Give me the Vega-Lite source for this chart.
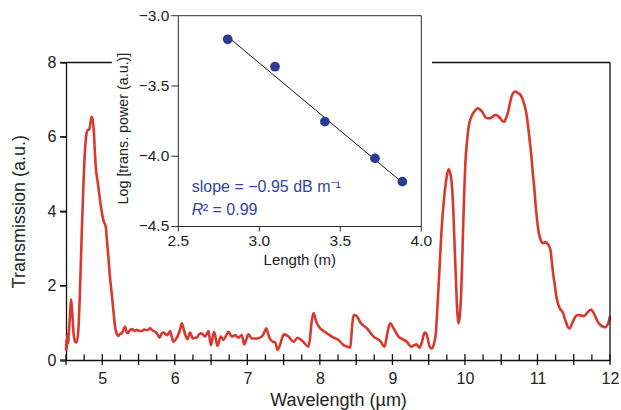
{
  "$schema": "https://vega.github.io/schema/vega-lite/v6.json",
  "autosize": {"type": "none"},
  "width": 544,
  "height": 297.5,
  "padding": {"left": 66, "top": 62.5, "right": 11, "bottom": 50},
  "background": "white",
  "config": {
    "font": "Liberation Sans",
    "view": {"stroke": null},
    "axis": {
      "domainColor": "#111111",
      "domainWidth": 1.3,
      "tickColor": "#111111",
      "tickWidth": 1.3,
      "tickOpacity": 1,
      "labelColor": "#222222",
      "labelFontSize": 16,
      "titleFontSize": 18,
      "titleFontWeight": "normal",
      "titleColor": "#222222",
      "grid": false
    }
  },
  "datasets": {
    "one": [{}],
    "spectrum": [
      {"w": 4.5, "t": 0.25}, {"w": 4.505, "t": 0.55}, {"w": 4.512, "t": 0.3}, {"w": 4.52, "t": 0.7}, {"w": 4.53, "t": 0.45},
      {"w": 4.54, "t": 0.75}, {"w": 4.555, "t": 1.2}, {"w": 4.569, "t": 1.63}, {"w": 4.585, "t": 1.3}, {"w": 4.605, "t": 0.7},
      {"w": 4.625, "t": 0.5}, {"w": 4.648, "t": 0.47}, {"w": 4.67, "t": 0.8}, {"w": 4.69, "t": 1.7}, {"w": 4.717, "t": 3.41},
      {"w": 4.74, "t": 4.7}, {"w": 4.762, "t": 5.65}, {"w": 4.78, "t": 6.05}, {"w": 4.794, "t": 6.17}, {"w": 4.822, "t": 6.2},
      {"w": 4.835, "t": 6.35}, {"w": 4.854, "t": 6.54}, {"w": 4.868, "t": 6.45}, {"w": 4.882, "t": 6.2}, {"w": 4.895, "t": 5.7},
      {"w": 4.91, "t": 5.2}, {"w": 4.94, "t": 4.75}, {"w": 4.969, "t": 4.3}, {"w": 4.995, "t": 3.95}, {"w": 5.015, "t": 3.76},
      {"w": 5.048, "t": 3.58}, {"w": 5.065, "t": 3.2}, {"w": 5.084, "t": 2.78}, {"w": 5.105, "t": 2.25}, {"w": 5.13, "t": 1.79},
      {"w": 5.155, "t": 1.3}, {"w": 5.176, "t": 0.9}, {"w": 5.2, "t": 0.7}, {"w": 5.222, "t": 0.65}, {"w": 5.245, "t": 0.7},
      {"w": 5.268, "t": 0.72}, {"w": 5.29, "t": 0.8}, {"w": 5.314, "t": 0.9}, {"w": 5.335, "t": 0.75}, {"w": 5.351, "t": 0.72},
      {"w": 5.38, "t": 0.8}, {"w": 5.415, "t": 0.83}, {"w": 5.445, "t": 0.78}, {"w": 5.475, "t": 0.81}, {"w": 5.51, "t": 0.78},
      {"w": 5.545, "t": 0.78}, {"w": 5.58, "t": 0.82}, {"w": 5.62, "t": 0.8}, {"w": 5.659, "t": 0.85}, {"w": 5.69, "t": 0.8},
      {"w": 5.728, "t": 0.76}, {"w": 5.76, "t": 0.7}, {"w": 5.788, "t": 0.6}, {"w": 5.815, "t": 0.7}, {"w": 5.843, "t": 0.74},
      {"w": 5.87, "t": 0.7}, {"w": 5.898, "t": 0.67}, {"w": 5.935, "t": 0.78}, {"w": 5.955, "t": 0.65}, {"w": 5.981, "t": 0.49},
      {"w": 6.01, "t": 0.55}, {"w": 6.036, "t": 0.63}, {"w": 6.07, "t": 0.8}, {"w": 6.096, "t": 0.99}, {"w": 6.12, "t": 0.85},
      {"w": 6.142, "t": 0.69}, {"w": 6.174, "t": 0.56}, {"w": 6.211, "t": 0.74}, {"w": 6.248, "t": 0.58}, {"w": 6.275, "t": 0.6},
      {"w": 6.303, "t": 0.6}, {"w": 6.33, "t": 0.68}, {"w": 6.359, "t": 0.72}, {"w": 6.39, "t": 0.68}, {"w": 6.418, "t": 0.63},
      {"w": 6.44, "t": 0.7}, {"w": 6.464, "t": 0.78}, {"w": 6.497, "t": 0.4}, {"w": 6.542, "t": 0.76}, {"w": 6.588, "t": 0.38},
      {"w": 6.635, "t": 0.63}, {"w": 6.671, "t": 0.54}, {"w": 6.705, "t": 0.65}, {"w": 6.74, "t": 0.76}, {"w": 6.786, "t": 0.63},
      {"w": 6.832, "t": 0.67}, {"w": 6.878, "t": 0.6}, {"w": 6.924, "t": 0.67}, {"w": 6.956, "t": 0.42}, {"w": 6.985, "t": 0.55},
      {"w": 7.015, "t": 0.69}, {"w": 7.062, "t": 0.58}, {"w": 7.131, "t": 0.58}, {"w": 7.2, "t": 0.63}, {"w": 7.235, "t": 0.75},
      {"w": 7.26, "t": 0.85}, {"w": 7.285, "t": 0.72}, {"w": 7.305, "t": 0.6}, {"w": 7.352, "t": 0.49}, {"w": 7.384, "t": 0.48},
      {"w": 7.416, "t": 0.27}, {"w": 7.453, "t": 0.42}, {"w": 7.48, "t": 0.6}, {"w": 7.508, "t": 0.69}, {"w": 7.568, "t": 0.63},
      {"w": 7.637, "t": 0.49}, {"w": 7.692, "t": 0.6}, {"w": 7.735, "t": 0.55}, {"w": 7.775, "t": 0.48}, {"w": 7.843, "t": 0.36},
      {"w": 7.865, "t": 0.6}, {"w": 7.881, "t": 0.94}, {"w": 7.913, "t": 1.26}, {"w": 7.95, "t": 1.03}, {"w": 8.005, "t": 0.85},
      {"w": 8.05, "t": 0.78}, {"w": 8.097, "t": 0.72}, {"w": 8.188, "t": 0.6}, {"w": 8.257, "t": 0.54}, {"w": 8.326, "t": 0.4},
      {"w": 8.38, "t": 0.36}, {"w": 8.419, "t": 0.33}, {"w": 8.44, "t": 0.8}, {"w": 8.464, "t": 1.21}, {"w": 8.502, "t": 1.19},
      {"w": 8.566, "t": 0.99}, {"w": 8.649, "t": 0.85}, {"w": 8.74, "t": 0.63}, {"w": 8.833, "t": 0.51}, {"w": 8.892, "t": 0.36},
      {"w": 8.925, "t": 0.67}, {"w": 8.95, "t": 0.9}, {"w": 8.971, "t": 0.99}, {"w": 9.016, "t": 0.85}, {"w": 9.085, "t": 0.63},
      {"w": 9.15, "t": 0.55}, {"w": 9.201, "t": 0.49}, {"w": 9.256, "t": 0.36}, {"w": 9.3, "t": 0.4}, {"w": 9.33, "t": 0.42},
      {"w": 9.375, "t": 0.33}, {"w": 9.41, "t": 0.5}, {"w": 9.44, "t": 0.72}, {"w": 9.458, "t": 0.74}, {"w": 9.485, "t": 0.6},
      {"w": 9.5, "t": 0.45}, {"w": 9.523, "t": 0.33}, {"w": 9.546, "t": 0.31}, {"w": 9.575, "t": 0.45}, {"w": 9.6, "t": 0.75},
      {"w": 9.62, "t": 1.4}, {"w": 9.645, "t": 2.3}, {"w": 9.684, "t": 3.68}, {"w": 9.71, "t": 4.3}, {"w": 9.73, "t": 4.66},
      {"w": 9.755, "t": 5.0}, {"w": 9.775, "t": 5.13}, {"w": 9.8, "t": 5.0}, {"w": 9.822, "t": 4.66}, {"w": 9.84, "t": 4.0},
      {"w": 9.858, "t": 3.05}, {"w": 9.875, "t": 2.2}, {"w": 9.891, "t": 1.43}, {"w": 9.903, "t": 1.1}, {"w": 9.913, "t": 0.99},
      {"w": 9.93, "t": 1.2}, {"w": 9.946, "t": 1.7}, {"w": 9.96, "t": 2.5}, {"w": 9.974, "t": 3.5}, {"w": 9.99, "t": 4.5},
      {"w": 10.006, "t": 5.29}, {"w": 10.03, "t": 5.9}, {"w": 10.051, "t": 6.27}, {"w": 10.08, "t": 6.5}, {"w": 10.112, "t": 6.63},
      {"w": 10.145, "t": 6.72}, {"w": 10.175, "t": 6.77}, {"w": 10.205, "t": 6.74}, {"w": 10.236, "t": 6.68}, {"w": 10.27, "t": 6.56},
      {"w": 10.305, "t": 6.5}, {"w": 10.34, "t": 6.5}, {"w": 10.374, "t": 6.53}, {"w": 10.405, "t": 6.58}, {"w": 10.433, "t": 6.59},
      {"w": 10.46, "t": 6.55}, {"w": 10.489, "t": 6.5}, {"w": 10.515, "t": 6.42}, {"w": 10.544, "t": 6.41}, {"w": 10.565, "t": 6.5},
      {"w": 10.59, "t": 6.63}, {"w": 10.615, "t": 6.85}, {"w": 10.636, "t": 7.04}, {"w": 10.665, "t": 7.18}, {"w": 10.696, "t": 7.22},
      {"w": 10.73, "t": 7.18}, {"w": 10.765, "t": 7.13}, {"w": 10.795, "t": 7.02}, {"w": 10.82, "t": 6.86}, {"w": 10.845, "t": 6.65},
      {"w": 10.866, "t": 6.36}, {"w": 10.89, "t": 5.95}, {"w": 10.912, "t": 5.56}, {"w": 10.935, "t": 5.05}, {"w": 10.958, "t": 4.57},
      {"w": 10.975, "t": 4.15}, {"w": 10.995, "t": 3.76}, {"w": 11.015, "t": 3.45}, {"w": 11.031, "t": 3.32}, {"w": 11.055, "t": 3.18},
      {"w": 11.078, "t": 3.14}, {"w": 11.105, "t": 3.17}, {"w": 11.133, "t": 3.14}, {"w": 11.155, "t": 3.08}, {"w": 11.179, "t": 2.96},
      {"w": 11.2, "t": 2.6}, {"w": 11.216, "t": 2.33}, {"w": 11.24, "t": 2.0}, {"w": 11.261, "t": 1.7}, {"w": 11.285, "t": 1.5},
      {"w": 11.307, "t": 1.39}, {"w": 11.33, "t": 1.33}, {"w": 11.354, "t": 1.26}, {"w": 11.375, "t": 1.12}, {"w": 11.399, "t": 0.99},
      {"w": 11.42, "t": 0.88}, {"w": 11.445, "t": 0.85}, {"w": 11.47, "t": 0.95}, {"w": 11.5, "t": 1.08}, {"w": 11.53, "t": 1.18},
      {"w": 11.556, "t": 1.21}, {"w": 11.6, "t": 1.2}, {"w": 11.638, "t": 1.18}, {"w": 11.69, "t": 1.28}, {"w": 11.74, "t": 1.36},
      {"w": 11.77, "t": 1.28}, {"w": 11.8, "t": 1.16}, {"w": 11.835, "t": 1.02}, {"w": 11.869, "t": 0.94}, {"w": 11.9, "t": 0.9},
      {"w": 11.938, "t": 0.88}, {"w": 11.965, "t": 0.95}, {"w": 11.983, "t": 1.03}, {"w": 12.0, "t": 1.18}
    ],
    "majorTicks": [
      {"tk": 4.5}, {"tk": 5}, {"tk": 5.5}, {"tk": 6}, {"tk": 6.5}, {"tk": 7}, {"tk": 7.5}, {"tk": 8},
      {"tk": 8.5}, {"tk": 9}, {"tk": 9.5}, {"tk": 10}, {"tk": 10.5}, {"tk": 11}, {"tk": 11.5}, {"tk": 12}
    ],
    "minorTicks": [
      {"mk": 4.75}, {"mk": 5.25}, {"mk": 5.75}, {"mk": 6.25}, {"mk": 6.75}, {"mk": 7.25}, {"mk": 7.75}, {"mk": 8.25},
      {"mk": 8.75}, {"mk": 9.25}, {"mk": 9.75}, {"mk": 10.25}, {"mk": 10.75}, {"mk": 11.25}, {"mk": 11.75}
    ],
    "yTicks": [{"yt": 0}, {"yt": 2}, {"yt": 4}, {"yt": 6}, {"yt": 8}],
    "inset": [
      {"len": 2.805, "logp": -3.168},
      {"len": 3.097, "logp": -3.363},
      {"len": 3.405, "logp": -3.754},
      {"len": 3.714, "logp": -4.015},
      {"len": 3.883, "logp": -4.181}
    ],
    "fit": [
      {"len": 2.805, "logp": -3.149},
      {"len": 3.889, "logp": -4.193}
    ],
    "insetY": [
      {"iy": -3.0, "label": "−3.0"}, {"iy": -3.5, "label": "−3.5"},
      {"iy": -4.0, "label": "−4.0"}, {"iy": -4.5, "label": "−4.5"}
    ],
    "insetX": [
      {"ix": 2.5, "label": "2.5"}, {"ix": 3.0, "label": "3.0"},
      {"ix": 3.5, "label": "3.5"}, {"ix": 4.0, "label": "4.0"}
    ]
  },
  "resolve": {"scale": {"x": "independent", "y": "independent"}, "axis": {"x": "independent", "y": "independent"}},
  "layer": [
    {
      "data": {"name": "spectrum"},
      "mark": {"type": "line", "color": "#d8392e", "strokeWidth": 2.6, "interpolate": "monotone"},
      "encoding": {
        "x": {
          "field": "w", "type": "quantitative",
          "title": "Wavelength (µm)",
          "scale": {"domain": [4.5, 12], "nice": false, "zero": false},
          "axis": {
            "orient": "bottom",
            "values": [5, 6, 7, 8, 9, 10, 11, 12],
            "format": "d",
            "ticks": false,
            "labelPadding": 10,
            "titlePadding": 5,
            "labelFlush": false
          }
        },
        "y": {
          "field": "t", "type": "quantitative",
          "title": "Transmission (a.u.)",
          "scale": {"domain": [0, 8], "nice": false, "zero": false},
          "axis": {
            "orient": "left",
            "values": [0, 2, 4, 6, 8],
            "format": "d",
            "ticks": true,
            "tickSize": 6,
            "labelPadding": 4,
            "titlePadding": 19,
            "labelFlush": false
          }
        }
      }
    },
    {
      "data": {"name": "majorTicks"},
      "mark": {"type": "rule", "color": "#111111", "strokeWidth": 1.3, "clip": false},
      "encoding": {
        "x": {"field": "tk", "type": "quantitative", "scale": {"domain": [4.5, 12], "nice": false, "zero": false}, "axis": null},
        "y": {"datum": -0.134, "type": "quantitative", "scale": {"domain": [0, 8], "nice": false, "zero": false}, "axis": null},
        "y2": {"datum": 0.161}
      }
    },
    {
      "data": {"name": "minorTicks"},
      "mark": {"type": "rule", "color": "#111111", "strokeWidth": 1.3, "clip": false},
      "encoding": {
        "x": {"field": "mk", "type": "quantitative", "scale": {"domain": [4.5, 12], "nice": false, "zero": false}, "axis": null},
        "y": {"datum": 0, "type": "quantitative", "scale": {"domain": [0, 8], "nice": false, "zero": false}, "axis": null},
        "y2": {"datum": 0.148}
      }
    },
    {
      "data": {"name": "yTicks"},
      "mark": {"type": "rule", "color": "#111111", "strokeWidth": 1.3, "clip": false},
      "encoding": {
        "x": {"datum": 4.4173, "type": "quantitative", "scale": {"domain": [4.5, 12], "nice": false, "zero": false}, "axis": null},
        "x2": {"datum": 4.5},
        "y": {"field": "yt", "type": "quantitative", "scale": {"domain": [0, 8], "nice": false, "zero": false}, "axis": null}
      }
    },
    {
      "data": {"name": "one"},
      "mark": {"type": "rule", "color": "#111111", "strokeWidth": 1.3},
      "encoding": {
        "x": {"datum": 4.5, "type": "quantitative", "scale": {"domain": [4.5, 12], "nice": false, "zero": false}, "axis": null},
        "x2": {"datum": 12},
        "y": {"datum": 8, "type": "quantitative", "scale": {"domain": [0, 8], "nice": false, "zero": false}, "axis": null}
      }
    },
    {
      "data": {"name": "one"},
      "mark": {"type": "rule", "color": "#111111", "strokeWidth": 1.3},
      "encoding": {
        "x": {"datum": 12, "type": "quantitative", "scale": {"domain": [4.5, 12], "nice": false, "zero": false}, "axis": null},
        "y": {"datum": 0, "type": "quantitative", "scale": {"domain": [0, 8], "nice": false, "zero": false}, "axis": null},
        "y2": {"datum": 8}
      }
    },
    {
      "data": {"name": "one"},
      "mark": {"type": "rect", "color": "white", "opacity": 1},
      "encoding": {
        "x": {"datum": 2.09, "type": "quantitative", "scale": {"domain": [1.8068, 5.1648], "nice": false, "zero": false}, "axis": null},
        "x2": {"datum": 4.066},
        "y": {"datum": -2.95, "type": "quantitative", "scale": {"domain": [-5.45, -3.333], "nice": false, "zero": false}, "axis": null},
        "y2": {"datum": -4.83}
      }
    },
    {
      "data": {"name": "one"},
      "mark": {"type": "rect", "fill": null, "filled": false, "stroke": "#2a2a2a", "strokeWidth": 1},
      "encoding": {
        "x": {"datum": 2.5, "type": "quantitative", "scale": {"domain": [1.8068, 5.1648], "nice": false, "zero": false}, "axis": null},
        "x2": {"datum": 4.0},
        "y": {"datum": -4.5, "type": "quantitative", "scale": {"domain": [-5.45, -3.333], "nice": false, "zero": false}, "axis": null},
        "y2": {"datum": -3.0}
      }
    },
    {
      "data": {"name": "fit"},
      "mark": {"type": "line", "color": "#111111", "strokeWidth": 1},
      "encoding": {
        "x": {"field": "len", "type": "quantitative", "scale": {"domain": [1.8068, 5.1648], "nice": false, "zero": false}, "axis": null},
        "y": {"field": "logp", "type": "quantitative", "scale": {"domain": [-5.45, -3.333], "nice": false, "zero": false}, "axis": null}
      }
    },
    {
      "data": {"name": "inset"},
      "mark": {"type": "circle", "color": "#2c3a95", "opacity": 1, "size": 95},
      "encoding": {
        "x": {"field": "len", "type": "quantitative", "scale": {"domain": [1.8068, 5.1648], "nice": false, "zero": false}, "axis": null},
        "y": {"field": "logp", "type": "quantitative", "scale": {"domain": [-5.45, -3.333], "nice": false, "zero": false}, "axis": null}
      }
    },
    {
      "data": {"name": "insetY"},
      "mark": {"type": "rule", "color": "#2a2a2a", "strokeWidth": 1, "xOffset": -7, "x2Offset": 0},
      "encoding": {
        "x": {"datum": 2.5, "type": "quantitative", "scale": {"domain": [1.8068, 5.1648], "nice": false, "zero": false}, "axis": null},
        "x2": {"datum": 2.5},
        "y": {"field": "iy", "type": "quantitative", "scale": {"domain": [-5.45, -3.333], "nice": false, "zero": false}, "axis": null}
      }
    },
    {
      "data": {"name": "insetY"},
      "mark": {"type": "text", "align": "right", "baseline": "middle", "dx": -9, "fontSize": 15.5, "color": "#222222"},
      "encoding": {
        "x": {"datum": 2.5, "type": "quantitative", "scale": {"domain": [1.8068, 5.1648], "nice": false, "zero": false}, "axis": null},
        "y": {"field": "iy", "type": "quantitative", "scale": {"domain": [-5.45, -3.333], "nice": false, "zero": false}, "axis": null},
        "text": {"field": "label"}
      }
    },
    {
      "data": {"name": "insetX"},
      "mark": {"type": "rule", "color": "#2a2a2a", "strokeWidth": 1, "yOffset": 0, "y2Offset": 5},
      "encoding": {
        "x": {"field": "ix", "type": "quantitative", "scale": {"domain": [1.8068, 5.1648], "nice": false, "zero": false}, "axis": null},
        "y": {"datum": -4.5, "type": "quantitative", "scale": {"domain": [-5.45, -3.333], "nice": false, "zero": false}, "axis": null},
        "y2": {"datum": -4.5}
      }
    },
    {
      "data": {"name": "insetX"},
      "mark": {"type": "text", "align": "center", "baseline": "middle", "dy": 15, "fontSize": 15.5, "color": "#222222"},
      "encoding": {
        "x": {"field": "ix", "type": "quantitative", "scale": {"domain": [1.8068, 5.1648], "nice": false, "zero": false}, "axis": null},
        "y": {"datum": -4.5, "type": "quantitative", "scale": {"domain": [-5.45, -3.333], "nice": false, "zero": false}, "axis": null},
        "text": {"field": "label"}
      }
    },
    {
      "data": {"name": "one"},
      "mark": {"type": "text", "align": "center", "baseline": "middle", "fontSize": 15, "color": "#222222", "text": "Length (m)"},
      "encoding": {
        "x": {"datum": 3.25, "type": "quantitative", "scale": {"domain": [1.8068, 5.1648], "nice": false, "zero": false}, "axis": null},
        "y": {"datum": -4.738, "type": "quantitative", "scale": {"domain": [-5.45, -3.333], "nice": false, "zero": false}, "axis": null}
      }
    },
    {
      "data": {"name": "one"},
      "mark": {"type": "text", "align": "center", "baseline": "middle", "angle": 270, "fontSize": 14.3, "color": "#222222", "text": "Log [trans. power (a.u.)]"},
      "encoding": {
        "x": {"datum": 2.167, "type": "quantitative", "scale": {"domain": [1.8068, 5.1648], "nice": false, "zero": false}, "axis": null},
        "y": {"datum": -3.803, "type": "quantitative", "scale": {"domain": [-5.45, -3.333], "nice": false, "zero": false}, "axis": null}
      }
    },
    {
      "data": {"name": "one"},
      "mark": {"type": "text", "align": "left", "baseline": "middle", "fontSize": 16, "color": "#33449f", "text": "slope = −0.95 dB m⁻¹"},
      "encoding": {
        "x": {"datum": 2.583, "type": "quantitative", "scale": {"domain": [1.8068, 5.1648], "nice": false, "zero": false}, "axis": null},
        "y": {"datum": -4.219, "type": "quantitative", "scale": {"domain": [-5.45, -3.333], "nice": false, "zero": false}, "axis": null}
      }
    },
    {
      "data": {"name": "one"},
      "mark": {"type": "text", "align": "left", "baseline": "middle", "fontSize": 16, "fontStyle": "italic", "color": "#33449f", "text": "R"},
      "encoding": {
        "x": {"datum": 2.583, "type": "quantitative", "scale": {"domain": [1.8068, 5.1648], "nice": false, "zero": false}, "axis": null},
        "y": {"datum": -4.384, "type": "quantitative", "scale": {"domain": [-5.45, -3.333], "nice": false, "zero": false}, "axis": null}
      }
    },
    {
      "data": {"name": "one"},
      "mark": {"type": "text", "align": "left", "baseline": "middle", "dx": 11, "fontSize": 16, "color": "#33449f", "text": "² = 0.99"},
      "encoding": {
        "x": {"datum": 2.583, "type": "quantitative", "scale": {"domain": [1.8068, 5.1648], "nice": false, "zero": false}, "axis": null},
        "y": {"datum": -4.384, "type": "quantitative", "scale": {"domain": [-5.45, -3.333], "nice": false, "zero": false}, "axis": null}
      }
    }
  ]
}
